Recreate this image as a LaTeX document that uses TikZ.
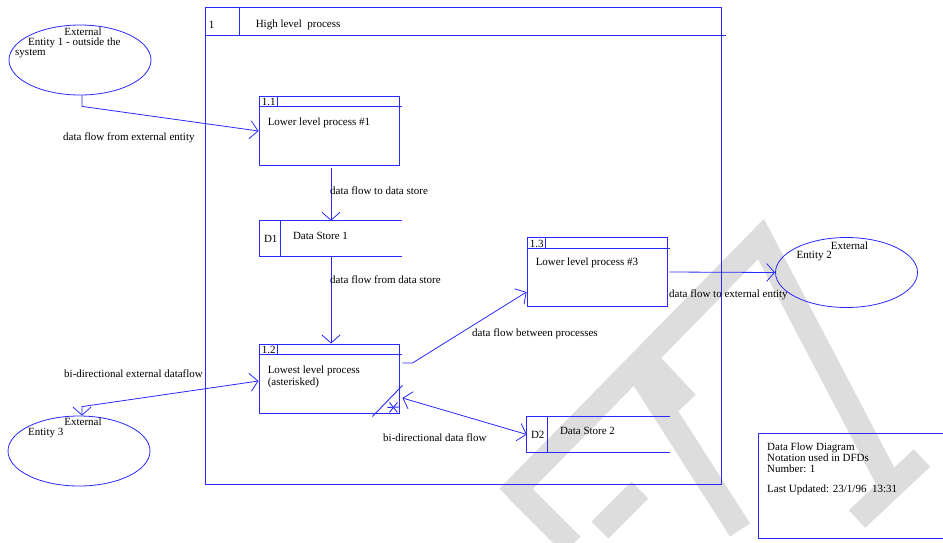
\documentclass[tikz,border=0pt]{standalone}
\usepackage{fontspec}
\setmainfont{Liberation Serif}
\usetikzlibrary{positioning,shapes.geometric,arrows.meta}
\definecolor{dfdblue}{RGB}{40,40,255}
\definecolor{wmgray}{RGB}{221,221,221}
\tikzset{
  every node/.style={font=\fontsize{11}{11}\selectfont},
  procbox/.style={draw=dfdblue, line width=0.9pt, minimum width=140pt, minimum height=69pt, inner sep=0pt},
  storebox/.style={minimum width=142pt, minimum height=35pt, inner sep=0pt},
  entity/.style={ellipse, draw=dfdblue, line width=0.8pt, minimum width=142pt, minimum height=70pt, inner sep=0pt},
  boxline/.style={draw=dfdblue, line width=0.9pt},
  flow/.style={draw=dfdblue, line width=0.8pt, -{Straight Barb[length=8pt,width=18pt]}},
  flowboth/.style={draw=dfdblue, line width=0.8pt, {Straight Barb[length=8pt,width=18pt]}-{Straight Barb[length=8pt,width=18pt]}},
  lbl/.style={anchor=west, inner sep=0pt},
  wm/.style={draw=wmgray, line width=24pt}
}
\begin{document}
\begin{tikzpicture}[x=1pt,y=-1pt]
\useasboundingbox (0,0) rectangle (943,542);

%Watermark
\draw[wm] (508,497) -- (761,239) -- (892,489);
\draw[wm] (857,519) -- (922,458);
\draw[wm] (636,367) -- (740,530);
\draw[wm] (643,356) -- (687,403);
\draw[wm] (516,489) -- (572,545);
\draw[wm] (600,530) -- (640,490);

%High level process
\node[procbox, minimum width=516pt, minimum height=477pt] (p1) at (463,245.5) {};
\draw[boxline] ([yshift=-28.5]p1.north west) -- ([xshift=5,yshift=-28.5]p1.north east);
\draw[boxline] ([xshift=35]p1.north west) -- ++(0,28.5);
\node[lbl] (p1num) at ([shift={(4,18.5)}]p1.north west) {1};
\node[lbl] (p1name) at ([shift={(51,18.5)}]p1.north west) {High level\ \ process};

%Process 1.1
\node[procbox] (p11) at (329,131) {};
\draw[boxline] ([yshift=-10.5]p11.north west) -- ([xshift=3,yshift=-10.5]p11.north east);
\draw[boxline] ([xshift=19]p11.north west) -- ++(0,10.5);
\node[lbl] (p11num) at ([shift={(3,6)}]p11.north west) {1.1};
\node[lbl] (p11name) at ([shift={(9,26.5)}]p11.north west) {Lower level process \#1};

%Process 1.2
\node[procbox] (p12) at (329,378.5) {};
\draw[boxline] ([yshift=-11]p12.north west) -- ([xshift=3,yshift=-11]p12.north east);
\draw[boxline] ([xshift=19]p12.north west) -- ++(0,11);
\node[lbl] (p12num) at ([shift={(3,6.5)}]p12.north west) {1.2};
\node[lbl] (p12name) at ([shift={(9,27)}]p12.north west) {Lowest level process};
\node[lbl] (p12note) at ([shift={(9,39)}]p12.north west) {(asterisked)};
% asterisk mark
\draw[boxline] ([shift={(-27,3)}]p12.south east) -- ([shift={(3,-28)}]p12.south east);
\draw[boxline] ([shift={(-12,-6)}]p12.south east) -- (p12.south east |- 0,407);
\draw[boxline] ([shift={(-10,-11)}]p12.south east) -- ([shift={(-2,-1)}]p12.south east);
\draw[boxline] ([shift={(-10,-1)}]p12.south east) -- ([shift={(-2,-11)}]p12.south east);

%Process 1.3
\node[procbox] (p13) at (597,272) {};
\draw[boxline] ([yshift=-11]p13.north west) -- ([xshift=3,yshift=-11]p13.north east);
\draw[boxline] ([xshift=19]p13.north west) -- ++(0,11);
\node[lbl] (p13num) at ([shift={(3,6.5)}]p13.north west) {1.3};
\node[lbl] (p13name) at ([shift={(9,26)}]p13.north west) {Lower level process \#3};

%Data store D1
\node[storebox] (d1) at (331,238.5) {};
\draw[boxline] (d1.north east) -- (d1.north west) -- (d1.south west) -- (d1.south east);
\draw[boxline] ([xshift=21]d1.north west) -- ([xshift=21]d1.south west);
\node[lbl] (d1num) at ([xshift=4]d1.west) {D1};
\node[lbl] (d1name) at ([shift={(33,-3)}]d1.west) {Data Store 1};

%Data store D2
\node[storebox, minimum width=143pt] (d2) at (598.5,434.5) {};
\draw[boxline] (d2.north east) -- (d2.north west) -- (d2.south west) -- (d2.south east);
\draw[boxline] ([xshift=21]d2.north west) -- ([xshift=21]d2.south west);
\node[lbl] (d2num) at ([xshift=4]d2.west) {D2};
\node[lbl] (d2name) at ([shift={(33,-4)}]d2.west) {Data Store 2};

%External entities
\node[entity] (e1) at (80,60) {};
\node[anchor=center, inner sep=0pt] (e1a) at ([shift={(3,-28)}]e1.center) {External};
\node[lbl] (e1b) at ([shift={(-52,-17)}]e1.center) {Entity 1 - outside the};
\node[lbl] (e1c) at ([shift={(-65,-6.5)}]e1.center) {system};

\node[entity] (e2) at (846.5,272.5) {};
\node[anchor=center, inner sep=0pt] (e2a) at ([shift={(3,-27)}]e2.center) {External};
\node[lbl] (e2b) at ([shift={(-50,-16)}]e2.center) {Entity 2};

\node[entity] (e3) at (79,451) {};
\node[anchor=center, inner sep=0pt] (e3a) at ([shift={(4,-29)}]e3.center) {External};
\node[lbl] (e3b) at ([shift={(-51,-18)}]e3.center) {Entity 3};

%Data flows
\draw[flow] ([xshift=2]e1.south) -- ++(0,11) -- (p11.west);
\node[lbl] (f1) at (63,138) {data flow from external entity};

\draw[flow] ([xshift=2,yshift=-2]p11.south) -- ([xshift=2]p11.south |- d1.north);
\node[lbl] (f2) at (330,191) {data flow to data store};

\draw[flow] ([xshift=2]p12.north |- d1.south) -- ([xshift=2]p12.north);
\node[lbl] (f3) at (330,280) {data flow from data store};

\draw[flow] ([shift={(3,-15.5)}]p12.east) -- ++(10,0) -- ([yshift=-20]p13.west);
\node[lbl] (f4) at (472,334) {data flow between processes};

\draw[flow] ([xshift=2]p13.east) -- (e2.west);
\node[lbl] (f5) at (669,295) {data flow to external entity};

\draw[flowboth] ([shift={(3,19.5)}]p12.east) -- (d2.west);
\node[lbl] (f6) at (383,438) {bi-directional data flow};

\draw[flowboth] ([xshift=3]e3.north) -- ++(0,-9) -- ([yshift=-2.5]p12.west);
\node[lbl] (f7) at (64,374) {bi-directional external dataflow};

%Legend
\draw[boxline] (948,433) -- (758,433) -- (758,538) -- (948,538);
\node[lbl] (lg1) at (767,448) {Data Flow Diagram};
\node[lbl] (lg2) at (767,458) {Notation used in DFDs};
\node[lbl] (lg3) at (767,469) {Number: 1};
\node[lbl] (lg4) at (767,490) {Last Updated: 23/1/96\ \ 13:31};
\end{tikzpicture}
\end{document}
